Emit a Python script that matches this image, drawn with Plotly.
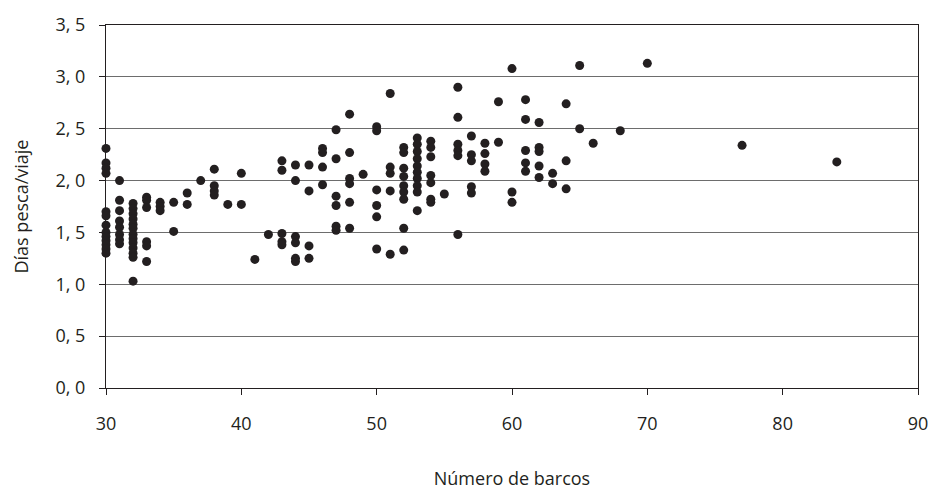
import plotly.graph_objects as go

# Número de barcos (x) -> Días pesca/viaje (y), grouped by x
barcos_groups = [30, 31, 32, 33, 34, 35, 36, 37, 38, 39, 40, 41, 42, 43, 44, 45,
                 46, 47, 48, 49, 50, 51, 52, 53, 54, 55, 56, 57, 58, 59, 60, 61,
                 62, 63, 64, 65, 66, 68, 70, 77, 84]
dias_groups = [
    [2.31, 2.17, 2.12, 2.07, 1.70, 1.66, 1.57, 1.50, 1.46, 1.42, 1.38, 1.34, 1.30],
    [2.00, 1.81, 1.71, 1.61, 1.55, 1.48, 1.43, 1.39],
    [1.78, 1.73, 1.68, 1.63, 1.58, 1.54, 1.48, 1.44, 1.40, 1.35, 1.30, 1.26, 1.03],
    [1.84, 1.81, 1.74, 1.41, 1.37, 1.22],
    [1.79, 1.75, 1.71],
    [1.79, 1.51],
    [1.88, 1.77],
    [2.00],
    [2.11, 1.95, 1.90, 1.86],
    [1.77],
    [2.07, 1.77],
    [1.24],
    [1.48],
    [2.19, 2.10, 1.49, 1.41, 1.38],
    [2.15, 2.00, 1.46, 1.40, 1.25, 1.22],
    [2.15, 1.90, 1.37, 1.25],
    [2.31, 2.27, 2.13, 1.96],
    [2.49, 2.21, 1.85, 1.76, 1.56, 1.52],
    [2.64, 2.27, 2.02, 1.97, 1.79, 1.54],
    [2.06],
    [2.52, 2.48, 1.91, 1.76, 1.65, 1.34],
    [2.84, 2.13, 2.07, 1.90, 1.29],
    [2.32, 2.27, 2.12, 2.04, 1.95, 1.89, 1.82, 1.54, 1.33],
    [2.41, 2.35, 2.28, 2.21, 2.14, 2.08, 2.02, 1.95, 1.89, 1.71],
    [2.38, 2.32, 2.23, 2.05, 1.98, 1.82, 1.79],
    [1.87],
    [2.90, 2.61, 2.35, 2.29, 2.24, 1.48],
    [2.43, 2.25, 2.19, 1.94, 1.88],
    [2.36, 2.26, 2.16, 2.09],
    [2.76, 2.37],
    [3.08, 1.89, 1.79],
    [2.78, 2.59, 2.29, 2.17, 2.09],
    [2.56, 2.32, 2.28, 2.14, 2.03],
    [2.07, 1.97],
    [2.74, 2.19, 1.92],
    [3.11, 2.50],
    [2.36],
    [2.48],
    [3.13],
    [2.34],
    [2.18],
]

x_ticks = [30, 40, 50, 60, 70, 80, 90]
y_ticks = [0.0, 0.5, 1.0, 1.5, 2.0, 2.5, 3.0, 3.5]
y_ticktext = ["0, 0", "0, 5", "1, 0", "1, 5", "2, 0", "2, 5", "3, 0", "3, 5"]

xs, ys = [], []
for bx, vals in zip(barcos_groups, dias_groups):
    for v in vals:
        xs.append(bx)
        ys.append(v)

FONT = "Open Sans"
TXT = "#231f20"
fig = go.Figure()
fig.add_trace(go.Scatter(
    x=xs, y=ys, mode="markers",
    marker=dict(size=9, color="#231f20", line=dict(width=0)),
    cliponaxis=False, showlegend=False,
))

fig.update_layout(
    width=940, height=497,
    margin=dict(l=106, r=14, t=21, b=109),
    paper_bgcolor="white", plot_bgcolor="white",
    font=dict(family=FONT, size=18, color=TXT),
)
fig.update_xaxes(
    range=[30, 90], tickvals=x_ticks, ticktext=[str(t) for t in x_ticks],
    showgrid=False, zeroline=False,
    showline=True, linecolor="#231f20", linewidth=1, mirror=True,
    ticks="outside", ticklen=6, tickcolor="#231f20", tickwidth=1,
    ticklabelstandoff=13,
    tickfont=dict(size=18, color=TXT),
    title=dict(text="Número de barcos", standoff=38, font=dict(size=18, color=TXT)),
)
fig.update_yaxes(
    range=[0, 3.5], tickvals=y_ticks, ticktext=y_ticktext,
    showgrid=True, gridcolor="#6d6d6d", gridwidth=1, zeroline=False,
    showline=True, linecolor="#231f20", linewidth=1, mirror=True,
    ticks="outside", ticklen=6, tickcolor="#231f20", tickwidth=1,
    ticklabelstandoff=10,
    tickfont=dict(size=18, color=TXT),
    title=dict(text="Días pesca/viaje", standoff=22, font=dict(size=18, color=TXT)),
)

fig.write_html("out.html")
